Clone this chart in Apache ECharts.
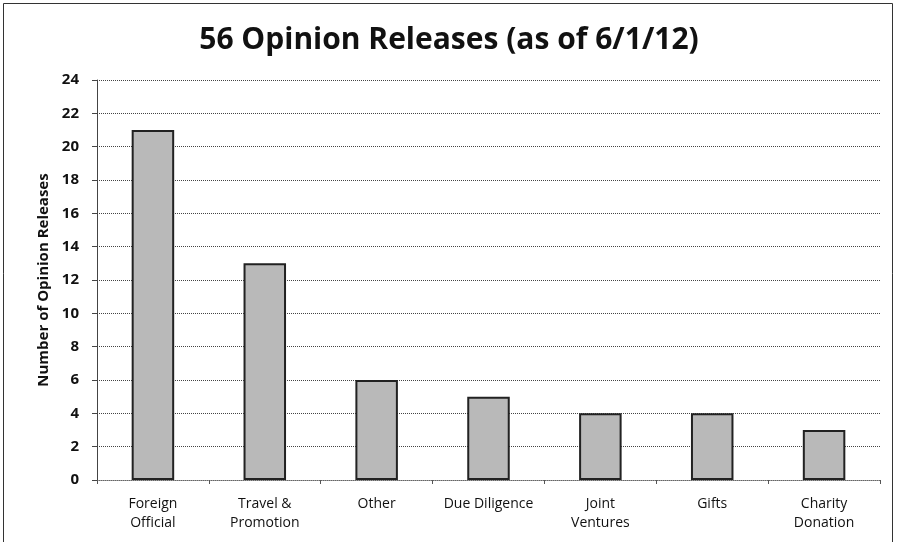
<!DOCTYPE html>
<html><head><meta charset="utf-8">
<script src="https://cdn.jsdelivr.net/npm/echarts@6/dist/echarts.min.js"></script>
<style>html,body{margin:0;padding:0;background:#fff}#c{width:898px;height:542px}</style>
</head><body><div id="c"></div>
<script>
const categories = ["Foreign\nOfficial", "Travel &\nPromotion", "Other", "Due Diligence", "Joint\nVentures", "Gifts", "Charity\nDonation"];
const values = [21, 13, 6, 5, 4, 4, 3];
const yTicks = {min: 0, max: 24, interval: 2};
const titleText = "56 Opinion Releases (as of 6/1/12)";
const yName = "Number of Opinion Releases";

const chart = echarts.init(document.getElementById('c'), null, {renderer: 'canvas'});
chart.setOption({
  backgroundColor: '#fff',
  animation: false,
  graphic: [{type: 'rect', shape: {x: 3.5, y: 3.5, width: 889, height: 560}, style: {fill: 'none', stroke: '#333', lineWidth: 1}, z: -1}],
  title: {text: titleText, left: 'center', top: 20,
    textStyle: {fontFamily: 'Open Sans', fontWeight: 'bold', fontSize: 30, color: '#111'}},
  grid: {left: 97, right: 18, top: 80, bottom: 62},
  xAxis: {type: 'category', data: categories,
    axisLine: {show: true, lineStyle: {color: '#666', type: 'dotted'}},
    axisTick: {show: true, length: 4, lineStyle: {color: '#555'}},
    axisLabel: {interval: 0, hideOverlap: false, fontFamily: 'Open Sans', fontSize: 14, color: '#111', lineHeight: 19, margin: 15}},
  yAxis: {type: 'value', min: yTicks.min, max: yTicks.max, interval: yTicks.interval,
    name: yName, nameLocation: 'middle', nameGap: 44, nameRotate: 90,
    nameTextStyle: {fontFamily: 'Open Sans', fontWeight: 'bold', fontSize: 15, color: '#111'},
    axisLine: {show: true, lineStyle: {color: '#444', width: 1}},
    axisTick: {show: true, length: 5, inside: false, lineStyle: {color: '#444'}},
    axisLabel: {fontFamily: 'Open Sans', fontWeight: 'bold', fontSize: 15, color: '#111', margin: 18},
    splitLine: {show: true, lineStyle: {color: '#444', type: 'dotted', width: 1}}},
  series: [{type: 'bar', data: values, barWidth: '38%',
    itemStyle: {color: '#b9b9b9', borderColor: '#222', borderWidth: 2}}]
});
</script></body></html>
